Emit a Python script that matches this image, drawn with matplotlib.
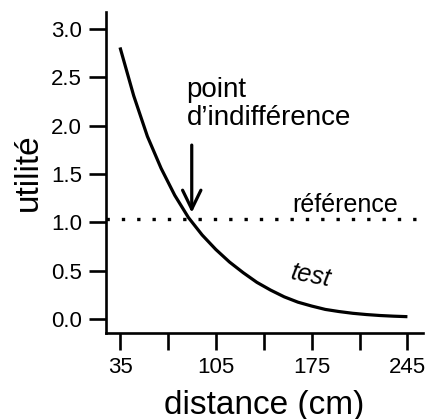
import matplotlib
matplotlib.use("Agg")
import matplotlib.pyplot as plt
from matplotlib.patches import FancyArrowPatch

plt.rcParams['font.family'] = ['Liberation Sans', 'DejaVu Sans']

# values
distance = [35, 45, 55, 65, 75, 85, 95, 105, 115, 125, 135, 145,
            155, 165, 175, 185, 195, 205, 215, 225, 235, 245]
utility = [2.81, 2.31, 1.89, 1.56, 1.28, 1.05, 0.87, 0.72, 0.59, 0.48, 0.38, 0.30,
           0.23, 0.175, 0.135, 0.10, 0.078, 0.06, 0.047, 0.037, 0.03, 0.025]
reference = 1.04
x_ticks = [35, 70, 105, 140, 175, 210, 245]
x_labels = ['35', '', '105', '', '175', '', '245']
y_ticks = [0.0, 0.5, 1.0, 1.5, 2.0, 2.5, 3.0]
y_labels = ['0.0', '0.5', '1.0', '1.5', '2.0', '2.5', '3.0']

fig = plt.figure(figsize=(4.26, 4.19), dpi=100)
ax = fig.add_axes([0.249, 0.205, 0.744, 0.766])

ax.plot(distance, utility, color='black', lw=2.3, solid_capstyle='butt')
ax.axhline(reference, color='black', lw=2.4, linestyle=(0, (1, 3.6)),
           dash_capstyle='butt')

ax.set_xlim(24.8, 256.4)
ax.set_ylim(-0.145, 3.175)
ax.set_xticks(x_ticks)
ax.set_xticklabels(x_labels)
ax.set_yticks(y_ticks)
ax.set_yticklabels(y_labels)

for side in ['top', 'right']:
    ax.spines[side].set_visible(False)
for side in ['left', 'bottom']:
    ax.spines[side].set_linewidth(1.9)
ax.tick_params(axis='both', length=12.5, width=1.9, labelsize=16, pad=5)

ax.set_xlabel('distance (cm)', fontsize=24, labelpad=8)
ax.set_ylabel('utilité', fontsize=24, labelpad=5)

ax.text(83.7, 2.296, 'point', fontsize=20, ha='left', va='baseline')
ax.text(83.7, 2.006, 'd\u2019indifférence', fontsize=20, ha='left', va='baseline')
ax.text(160.5, 1.11, 'référence', fontsize=18, ha='left', va='baseline')
ax.text(174.6, 0.445, 'test', fontsize=18, style='italic', rotation=-11,
        ha='center', va='center')

arrow = FancyArrowPatch((87.4, 1.80), (87.4, 1.10),
                        arrowstyle='->,head_length=0.68,head_width=0.33',
                        mutation_scale=20, color='black', lw=2.3,
                        shrinkA=0, shrinkB=0)
ax.add_patch(arrow)

fig.savefig('out.png', dpi=100)
